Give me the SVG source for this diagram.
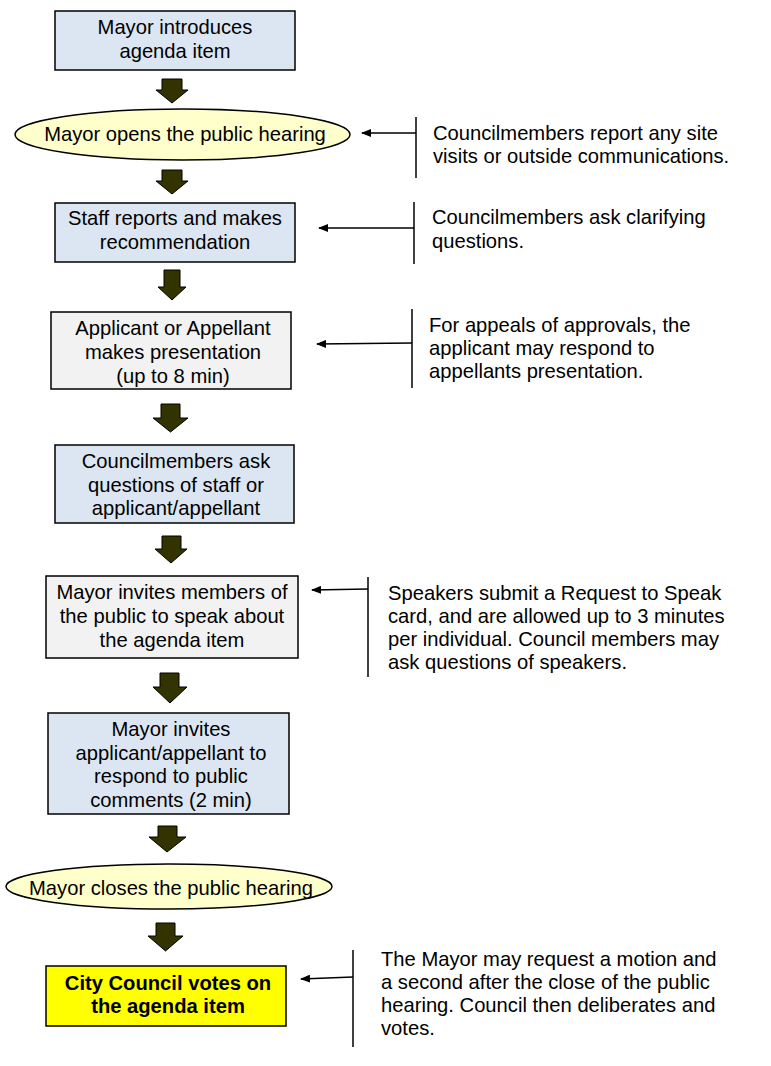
<svg xmlns="http://www.w3.org/2000/svg" width="771" height="1066" viewBox="0 0 771 1066">
<style>
text{font-family:"Liberation Sans",Arial,sans-serif;font-size:20.2px;fill:#000}
.c{text-anchor:middle}
.b{font-weight:bold}
.blue{fill:#dce6f2;stroke:#000;stroke-width:1.5}
.grey{fill:#f2f2f2;stroke:#000;stroke-width:1.5}
.yel{fill:#ffff00;stroke:#000;stroke-width:1.5}
.ell{fill:#ffffcc;stroke:#000;stroke-width:1.5}
.blk{fill:#333300;stroke:#000;stroke-width:1}
.ln{stroke:#000;stroke-width:1.5;fill:none}
</style>
<defs>
<marker id="ah" markerWidth="10" markerHeight="8" refX="9" refY="4" orient="auto" markerUnits="userSpaceOnUse">
<path d="M0,0 L10,4 L0,8 Z" fill="#000"/>
</marker>
</defs>

<g id="n1"><rect class="blue" x="55" y="11" width="240" height="59"/>
<text class="c" x="175" y="34">Mayor introduces</text><text class="c" x="175" y="58">agenda item</text></g>
<g id="n2"><ellipse class="ell" cx="182.5" cy="134.5" rx="167.5" ry="25.5"/>
<text class="c" x="185" y="141">Mayor opens the public hearing</text></g>
<g id="n3"><rect class="blue" x="55" y="203" width="240" height="59"/>
<text class="c" x="175" y="225">Staff reports and makes</text><text class="c" x="175" y="249">recommendation</text></g>
<g id="n4"><rect class="grey" x="51" y="312" width="240" height="77"/>
<text class="c" x="173" y="335">Applicant or Appellant</text><text class="c" x="173" y="359">makes presentation</text><text class="c" x="173" y="383">(up to 8 min)</text></g>
<g id="n5"><rect class="blue" x="55" y="445" width="239" height="78"/>
<text class="c" x="176" y="468">Councilmembers ask</text><text class="c" x="176" y="492">questions of staff or</text><text class="c" x="176" y="515">applicant/appellant</text></g>
<g id="n6"><rect class="grey" x="46" y="576" width="252" height="82"/>
<text class="c" x="172" y="599">Mayor invites members of</text><text class="c" x="172" y="623">the public to speak about</text><text class="c" x="172" y="647">the agenda item</text></g>
<g id="n7"><rect class="blue" x="48" y="713" width="241" height="101"/>
<text class="c" x="171" y="736">Mayor invites</text><text class="c" x="171" y="760">applicant/appellant to</text><text class="c" x="171" y="783">respond to public</text><text class="c" x="171" y="807">comments (2 min)</text></g>
<g id="n8"><ellipse class="ell" cx="169" cy="886.5" rx="163" ry="22.5"/>
<text class="c" x="171" y="895">Mayor closes the public hearing</text></g>
<g id="n9"><rect class="yel" x="46" y="966" width="240" height="60"/>
<text class="c b" x="168" y="990">City Council votes on</text><text class="c b" x="168" y="1013">the agenda item</text></g>

<g id="notes">
<text x="433" y="140">Councilmembers report any site</text><text x="433" y="163">visits or outside communications.</text>
<text x="432" y="224">Councilmembers ask clarifying</text><text x="432" y="248">questions.</text>
<text x="429" y="332">For appeals of approvals, the</text><text x="429" y="355">applicant may respond to</text><text x="429" y="378">appellants presentation.</text>
<text x="388" y="600">Speakers submit a Request to Speak</text><text x="388" y="623">card, and are allowed up to 3 minutes</text><text x="388" y="646">per individual. Council members may</text><text x="388" y="669">ask questions of speakers.</text>
<text x="381" y="966">The Mayor may request a motion and</text><text x="381" y="989">a second after the close of the public</text><text x="381" y="1012">hearing. Council then deliberates and</text><text x="381" y="1035">votes.</text>
</g>

<g id="connectors">
<path class="blk" d="M162,79 H182 V90 H188 L172,103 L156,90 H162 Z"/>
<path class="blk" d="M162,170 H182 V181 H188 L172,194 L156,181 H162 Z"/>
<path class="blk" d="M164,270 H180 V287 H186 L172,300 L158,287 H164 Z"/>
<path class="blk" d="M161,404 H180 V418 H188 L170.5,432 L153,418 H161 Z"/>
<path class="blk" d="M162,536 H181 V549 H187 L171,563 L155,549 H162 Z"/>
<path class="blk" d="M160,673 H179 V687 H187 L170,703 L153,687 H160 Z"/>
<path class="blk" d="M158,826 H177 V837 H186 L167,852 L149,837 H158 Z"/>
<path class="blk" d="M156,923 H175 V936 H183 L165.5,951 L148,936 H156 Z"/>

<line class="ln" x1="416" y1="117" x2="416" y2="178"/>
<line class="ln" x1="416" y1="133" x2="362" y2="133" marker-end="url(#ah)"/>
<line class="ln" x1="414" y1="202" x2="414" y2="264"/>
<line class="ln" x1="414" y1="228" x2="319" y2="228" marker-end="url(#ah)"/>
<line class="ln" x1="412" y1="309" x2="412" y2="388"/>
<line class="ln" x1="412" y1="343" x2="317" y2="344" marker-end="url(#ah)"/>
<line class="ln" x1="368" y1="577" x2="368" y2="677"/>
<line class="ln" x1="368" y1="589" x2="312" y2="590" marker-end="url(#ah)"/>
<line class="ln" x1="353" y1="950" x2="353" y2="1047"/>
<line class="ln" x1="353" y1="977" x2="301" y2="979" marker-end="url(#ah)"/>
</g>
</svg>
